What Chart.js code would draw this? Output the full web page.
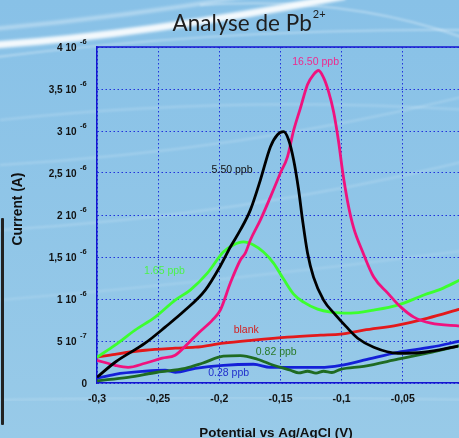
<!DOCTYPE html>
<html>
<head>
<meta charset="utf-8">
<script src="https://cdn.jsdelivr.net/npm/chart.js@4.4.1/dist/chart.umd.min.js"></script>
<style>
  html,body{margin:0;padding:0;width:459px;height:438px;overflow:hidden;}
  #wrap{position:relative;width:459px;height:438px;overflow:hidden;}
  #bg{position:absolute;left:0;top:0;}
  #c{position:absolute;left:0;top:0;}
  #bracket{position:absolute;left:1px;top:218px;width:2.5px;height:207px;background:#222;border-radius:1px;}
</style>
</head>
<body>
<div id="wrap">
<svg id="bg" width="459" height="438" xmlns="http://www.w3.org/2000/svg">
  <defs>
    <linearGradient id="g" x1="0" y1="0" x2="0" y2="1">
      <stop offset="0" stop-color="#88c1e7"/>
      <stop offset="1" stop-color="#98cae8"/>
    </linearGradient>
    <filter id="b2"><feGaussianBlur stdDeviation="1.6"/></filter>
    <filter id="b1"><feGaussianBlur stdDeviation="0.8"/></filter>
  </defs>
  <rect width="459" height="438" fill="url(#g)"/>
  <path d="M -20 46 Q 140 36 345 -4" stroke="#ffffff" stroke-width="7" fill="none" opacity="0.9" filter="url(#b2)"/>
  <path d="M -20 30 Q 120 18 260 -6" stroke="#ffffff" stroke-width="4" fill="none" opacity="0.35" filter="url(#b2)"/>
  <path d="M -10 58 Q 220 28 470 30" stroke="#ffffff" stroke-width="2" fill="none" opacity="0.35" filter="url(#b1)"/>
  <path d="M 200 5 Q 350 -5 470 40" stroke="#ffffff" stroke-width="2" fill="none" opacity="0.35" filter="url(#b1)"/>
  <path d="M 0 120 Q 230 95 470 110" stroke="#ffffff" stroke-width="2" fill="none" opacity="0.18" filter="url(#b1)"/>
  <path d="M 0 165 Q 250 150 470 95" stroke="#ffffff" stroke-width="2" fill="none" opacity="0.2" filter="url(#b1)"/>
  <path d="M 0 230 Q 250 215 470 160" stroke="#ffffff" stroke-width="2" fill="none" opacity="0.2" filter="url(#b1)"/>
  <path d="M 0 300 Q 240 280 470 250" stroke="#ffffff" stroke-width="2" fill="none" opacity="0.15" filter="url(#b1)"/>
  <path d="M 0 400 Q 240 395 470 400" stroke="#ffffff" stroke-width="2" fill="none" opacity="0.18" filter="url(#b1)"/>
</svg>
<div id="bracket"></div>
<canvas id="c" width="470" height="438"></canvas>
</div>
<script>
// ---- data (potential in V, current in units of 1e-6 A) ----
const potBlack = [-0.3,-0.2852,-0.2607,-0.2443,-0.2279,-0.2115,-0.1992,-0.1910,-0.1828,-0.1746,-0.1664,-0.1582,-0.1525,-0.1475,-0.1434,-0.1393,-0.1352,-0.1320,-0.1279,-0.1230,-0.1148,-0.1049,-0.0967,-0.0869,-0.0738,-0.0541,-0.0328,-0.0049];
const curBlack = [0.068,0.247,0.474,0.665,0.868,1.106,1.393,1.619,1.822,2.061,2.419,2.813,2.956,2.992,2.896,2.658,2.300,1.942,1.548,1.261,0.987,0.808,0.677,0.533,0.426,0.354,0.366,0.438];

const potPink = [-0.3,-0.2852,-0.2746,-0.2607,-0.2467,-0.2361,-0.2254,-0.2172,-0.2057,-0.1992,-0.1910,-0.1828,-0.1787,-0.1746,-0.1664,-0.1582,-0.1500,-0.1443,-0.1393,-0.1336,-0.1279,-0.1230,-0.1189,-0.1148,-0.1107,-0.1066,-0.1025,-0.0992,-0.0951,-0.0902,-0.0828,-0.0738,-0.0623,-0.0516,-0.0410,-0.0270,-0.0033];
const curPink = [0.271,0.211,0.187,0.235,0.295,0.331,0.474,0.593,0.748,0.868,1.190,1.464,1.548,1.703,1.942,2.216,2.502,2.693,3.004,3.278,3.553,3.672,3.720,3.636,3.469,3.230,2.872,2.514,2.156,1.846,1.560,1.261,1.070,0.903,0.784,0.712,0.677];

const potGreen = [-0.3,-0.2852,-0.2689,-0.2525,-0.2361,-0.2238,-0.2098,-0.1967,-0.1885,-0.1803,-0.1721,-0.1639,-0.1557,-0.1475,-0.1393,-0.1311,-0.1197,-0.1090,-0.0926,-0.0738,-0.0541,-0.0328,-0.0189,-0.0033];
const curGreen = [0.307,0.450,0.629,0.784,0.987,1.106,1.309,1.560,1.643,1.679,1.643,1.560,1.428,1.237,1.058,0.963,0.879,0.844,0.832,0.868,0.927,1.047,1.118,1.226];

const potBlank = [-0.3,-0.2852,-0.2607,-0.2361,-0.2197,-0.1967,-0.1721,-0.1443,-0.1172,-0.1008,-0.0820,-0.0541,-0.0295,-0.0033];
const curBlank = [0.307,0.342,0.390,0.414,0.426,0.474,0.510,0.545,0.569,0.581,0.629,0.689,0.772,0.879];

const potBlue = [-0.3,-0.2852,-0.2607,-0.2443,-0.2361,-0.2197,-0.1967,-0.1721,-0.1582,-0.1443,-0.1172,-0.1008,-0.0820,-0.0541,-0.0270,-0.0033];
const curBlue = [0.056,0.104,0.140,0.152,0.128,0.175,0.211,0.223,0.187,0.187,0.187,0.211,0.271,0.366,0.426,0.498];

const potDkGreen = [-0.3,-0.2746,-0.2508,-0.2279,-0.2139,-0.1967,-0.1828,-0.1689,-0.1557,-0.1418,-0.1350,-0.1279,-0.1210,-0.1148,-0.1080,-0.1008,-0.0820,-0.0541,-0.0270,-0.0033];
const curDkGreen = [0.026,0.068,0.128,0.175,0.235,0.319,0.325,0.283,0.211,0.152,0.120,0.140,0.118,0.140,0.125,0.163,0.199,0.283,0.366,0.444];

const xTickValues = [-0.3,-0.25,-0.2,-0.15,-0.1,-0.05];
const xTickLabels = ['-0,3','-0,25','-0,2','-0,15','-0,1','-0,05'];
const yTickValues = [0,0.5,1,1.5,2,2.5,3,3.5,4];
const yTickMain = ['0','5 10','1 10','1,5 10','2 10','2,5 10','3 10','3,5 10','4 10'];
const yTickExp = ['','-7','-6','-6','-6','-6','-6','-6','-6'];

const seriesNames = ['5.50 ppb','16.50 ppb','1.65 ppb','blank','0.82 ppb','0.28 ppb'];
const noteText = ['16.50 ppb','5.50 ppb','1.65 ppb','blank','0.82 ppb','0.28 ppb'];
const notePot = [-0.1213,-0.1896,-0.2448,-0.178,-0.1535,-0.1924];
const noteCur = [3.823,2.530,1.337,0.629,0.370,0.119];

const titleText = 'Analyse de Pb';
const titleSup = '2+';
const xTitle = 'Potential vs Ag/AgCl (V)';
const yTitle = 'Current (A)';

// ---- build ----
const U = 1e-6;
function pts(xs, ys){ return xs.map((x,i)=>({x:x, y:ys[i]*U})); }
const seriesColors = ['#000000','#f0127e','#3cff2e','#e3191b','#1f6b22','#1420d8'];
const noteColors = ['#ee2a8e','#111111','#4cf24c','#d42020','#2a7a2a','#2030cc'];
const seriesData = [pts(potBlack,curBlack),pts(potPink,curPink),pts(potGreen,curGreen),pts(potBlank,curBlank),pts(potDkGreen,curDkGreen),pts(potBlue,curBlue)];

const datasets = seriesData.map((d,i)=>({
  label: seriesNames[i], data: d, borderColor: seriesColors[i], backgroundColor: seriesColors[i],
  borderWidth: 2.8, pointRadius: 0, tension: 0.35, cubicInterpolationMode: 'monotone', fill:false, order: i
}));

const FONT = '"Liberation Sans", Arial, sans-serif';

const deco = {
  id: 'deco',
  afterDatasetsDraw(chart){
    const ctx = chart.ctx, xs = chart.scales.x, ys = chart.scales.y, a = chart.chartArea;
    ctx.save();
    ctx.strokeStyle = '#1414d0'; ctx.lineWidth = 1.5;
    ctx.beginPath(); ctx.moveTo(a.left, a.top); ctx.lineTo(a.right, a.top); ctx.stroke();
    ctx.font = '10.5px ' + FONT; ctx.textAlign = 'center'; ctx.textBaseline = 'middle';
    noteText.forEach((t,i)=>{
      ctx.fillStyle = noteColors[i];
      ctx.fillText(t, xs.getPixelForValue(notePot[i]), ys.getPixelForValue(noteCur[i]*U));
    });
    ctx.restore();
  },
  afterDraw(chart){
    const ctx = chart.ctx, xs = chart.scales.x, ys = chart.scales.y;
    ctx.save();
    ctx.fillStyle = '#111';
    ctx.textBaseline = 'middle';
    yTickValues.forEach((v,i)=>{
      const py = ys.getPixelForValue(v*U);
      ctx.font = 'bold 10px ' + FONT;
      if (yTickExp[i] === '') {
        ctx.textAlign = 'right'; ctx.fillText(yTickMain[i], 87, py + 1);
      } else {
        ctx.textAlign = 'right'; ctx.fillText(yTickMain[i], 76.5, py + 1);
        ctx.font = 'bold 7.5px ' + FONT; ctx.textAlign = 'left';
        ctx.fillText(yTickExp[i], 80, py - 5);
      }
    });
    ctx.font = 'bold 10.5px ' + FONT; ctx.textAlign = 'center';
    xTickValues.forEach((v,i)=>{
      ctx.fillText(xTickLabels[i], xs.getPixelForValue(v), 399);
    });
    ctx.font = 'bold 13.4px ' + FONT;
    ctx.fillText(xTitle, 276, 433);
    ctx.save();
    ctx.translate(18.5, 209); ctx.rotate(-Math.PI/2);
    ctx.font = 'bold 13.8px ' + FONT;
    ctx.fillText(yTitle, 0, 0);
    ctx.restore();
    ctx.fillStyle = '#1e1e1e';
    ctx.textBaseline = 'alphabetic'; ctx.textAlign = 'left';
    ctx.font = '22.5px Lato, "Open Sans", sans-serif';
    const w1 = ctx.measureText(titleText).width;
    ctx.font = '11px Lato, "Open Sans", sans-serif';
    const w2 = ctx.measureText(titleSup).width;
    const x0 = 249 - (w1 + w2 + 1)/2;
    ctx.font = '22.5px Lato, "Open Sans", sans-serif';
    ctx.fillText(titleText, x0, 30.5);
    ctx.font = '11px Lato, "Open Sans", sans-serif';
    ctx.fillText(titleSup, x0 + w1 + 1, 18);
    ctx.restore();
  }
};

new Chart(document.getElementById('c'), {
  type: 'line',
  data: { datasets },
  options: {
    responsive: false, animation: false, devicePixelRatio: 1,
    layout: { padding: { left: 0, top: 47, right: 6, bottom: 0 } },
    plugins: { legend: { display: false }, tooltip: { enabled: false }, title: { display: false } },
    scales: {
      x: {
        type: 'linear', min: -0.3, max: 0,
        ticks: { display: false, stepSize: 0.05 },
        grid: { color: '#2033dc', lineWidth: 1, drawTicks: false },
        border: { display: true, color: '#1414d0', width: 1.5, dash: [1.5,2.5] },
        afterFit(s){ s.height = 55; }
      },
      y: {
        type: 'linear', min: 0, max: 4e-6,
        ticks: { display: false, stepSize: 5e-7 },
        grid: { color: '#2033dc', lineWidth: 1, drawTicks: false },
        border: { display: true, color: '#1414d0', width: 1.5, dash: [1.5,2.5] },
        afterFit(s){ s.width = 97; }
      }
    }
  },
  plugins: [deco]
});
</script>
</body>
</html>
